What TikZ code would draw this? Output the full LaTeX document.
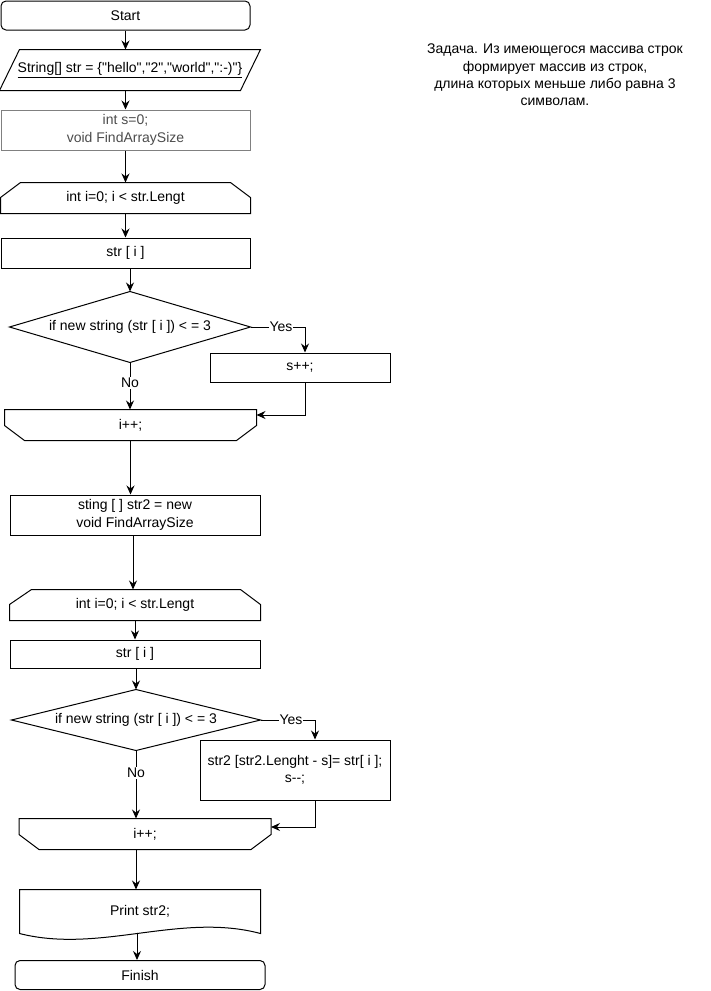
\documentclass[tikz,border=0pt]{standalone}
\usepackage{fontspec}
\newfontfamily\chartfont{Liberation Sans}
\usepackage{tikz}
\usetikzlibrary{calc,arrows.meta}

\begin{document}
\begin{tikzpicture}[x=1pt,y=-1pt,
        line width=1pt,
        font=\chartfont\fontsize{14}{17.3}\selectfont,
        block/.style={draw, rectangle, align=center, inner sep=0pt},
        shell/.style={rectangle, draw=none, align=center, inner sep=0pt},
        flow/.style={-{Stealth[length=9pt,width=8pt,inset=3pt]}},
        tag/.style={fill=white, inner sep=1pt}]
        \def\cx{20pt} % chamfer width of loop shapes
        \def\cy{15pt} % chamfer height of loop shapes
        \useasboundingbox (0,0) rectangle (711,991);

        % first pass: count short strings
        \node[block, rounded corners=5pt, minimum width=249pt, minimum height=29pt] (start) at (125.5,15.5) {Start};
        \node[shell, minimum width=260pt, minimum height=40pt] (input) at (130,70)
            {\underline{String[] str = \{"hello","2","world",":-)"\}}};
        \draw ([xshift=20pt]input.north west) -- (input.north east)
            -- ([xshift=-20pt]input.south east) -- (input.south west) -- cycle;
        \node[block, draw=gray, text=black!70, minimum width=249pt, minimum height=40pt] (init) at (125.5,130)
            {int s=0;\\void FindArraySize};
        \node[shell, minimum width=249pt, minimum height=30pt] (loopA) at (125.5,198) {int i=0; i < str.Lengt};
        \draw (loopA.south west) -- ([yshift=-\cy]loopA.north west) -- ([xshift=\cx]loopA.north west)
            -- ([xshift=-\cx]loopA.north east) -- ([yshift=-\cy]loopA.north east) -- (loopA.south east) -- cycle;
        \node[block, minimum width=249pt, minimum height=30pt] (itemA) at (125.5,253) {str [ i ]};
        \node[shell, minimum width=240pt, minimum height=70pt] (condA) at (130,327) {if new string (str [ i ]) < = 3};
        \draw (condA.north) -- (condA.east) -- (condA.south) -- (condA.west) -- cycle;
        \node[block, minimum width=180pt, minimum height=29pt] (incA) at (300,367.5) {s++;};
        \node[shell, minimum width=251pt, minimum height=30pt] (stepA) at (130.5,425) {i++;};
        \draw (stepA.north west) -- (stepA.north east) -- ([yshift=\cy]stepA.south east)
            -- ([xshift=-\cx]stepA.south east) -- ([xshift=\cx]stepA.south west) -- ([yshift=\cy]stepA.south west) -- cycle;

        % second pass: fill the new array
        \node[block, minimum width=250pt, minimum height=40pt] (alloc) at (135,515)
            {sting [ ] str2 = new\\void FindArraySize};
        \node[shell, minimum width=250pt, minimum height=30pt] (loopB) at (135,605) {int i=0; i < str.Lengt};
        \draw (loopB.south west) -- ([yshift=-\cy]loopB.north west) -- ([xshift=22pt]loopB.north west)
            -- ([xshift=-20pt]loopB.north east) -- ([yshift=-\cy]loopB.north east) -- (loopB.south east) -- cycle;
        \node[block, minimum width=250pt, minimum height=28pt] (itemB) at (135,654) {str [ i ]};
        \node[shell, minimum width=248pt, minimum height=60pt] (condB) at (136,720) {if new string (str [ i ]) < = 3};
        \draw (condB.north) -- (condB.east) -- (condB.south) -- (condB.west) -- cycle;
        \node[block, minimum width=190pt, minimum height=60pt] (resB) at (295,770)
            {str2 [str2.Lenght - s]= str[ i ];\\s--;};
        \node[shell, minimum width=251pt, minimum height=30pt] (stepB) at (145,834) {i++;};
        \draw (stepB.north west) -- (stepB.north east) -- ([yshift=\cy]stepB.south east)
            -- ([xshift=-\cx]stepB.south east) -- ([xshift=\cx]stepB.south west) -- ([yshift=\cy]stepB.south west) -- cycle;
        \node[shell, minimum width=240pt, minimum height=42pt] (print) at (140,911) {Print str2;};
        \draw (print.south west) -- (print.north west) -- (print.north east) -- ([yshift=-1pt]print.south east)
            .. controls (180,912) and (100,954) .. ([yshift=-1pt]print.south west) -- cycle;
        \node[block, rounded corners=5pt, minimum width=250pt, minimum height=29pt] (finish) at (140,975) {Finish};

        % task text
        \node[align=center] (task) at (555,75)
            {Задача. Из имеющегося массива строк\\формирует массив из строк,\\длина которых меньше либо равна 3\\символам.};

        % connectors
        \draw[flow] (start.south) -- (start.south |- input.north);
        \draw[flow] (start.south |- input.south) -- (init.north);
        \draw[flow] (init.south) -- (loopA.north);
        \draw[flow] (loopA.south) -- (itemA.north);
        \draw[flow] (condA.north |- itemA.south) -- (condA.north);
        \draw[flow] (condA.east) -| node[pos=0.28, tag] {Yes} ([xshift=5pt]incA.north);
        \draw[flow] ([xshift=5pt]incA.south) |- ([yshift=10pt]stepA.east);
        \draw[flow] (condA.south) -- node[pos=0.44, tag] {No} (condA.south |- stepA.north);
        \draw[flow] (stepA.south) -- (stepA.south |- alloc.north);
        \draw[flow] ([xshift=-2pt]alloc.south) -- ([xshift=-2pt]alloc.south |- loopB.north);
        \draw[flow] (loopB.south) -- (itemB.north);
        \draw[flow] (condB.north |- itemB.south) -- (condB.north);
        \draw[flow] (condB.east) -| node[pos=0.28, tag] {Yes} ([xshift=20pt]resB.north);
        \draw[flow] ([xshift=20pt]resB.south) |- ([yshift=7pt]stepB.east);
        \draw[flow] (condB.south) -- node[pos=0.33, tag] {No} (condB.south |- stepB.north);
        \draw[flow] (condB.south |- stepB.south) -- (condB.south |- print.north);
        \draw[flow] ([xshift=1pt]condB.south |- print.south) -- ([xshift=1pt]condB.south |- finish.north);
    \end{tikzpicture}
\end{document}
